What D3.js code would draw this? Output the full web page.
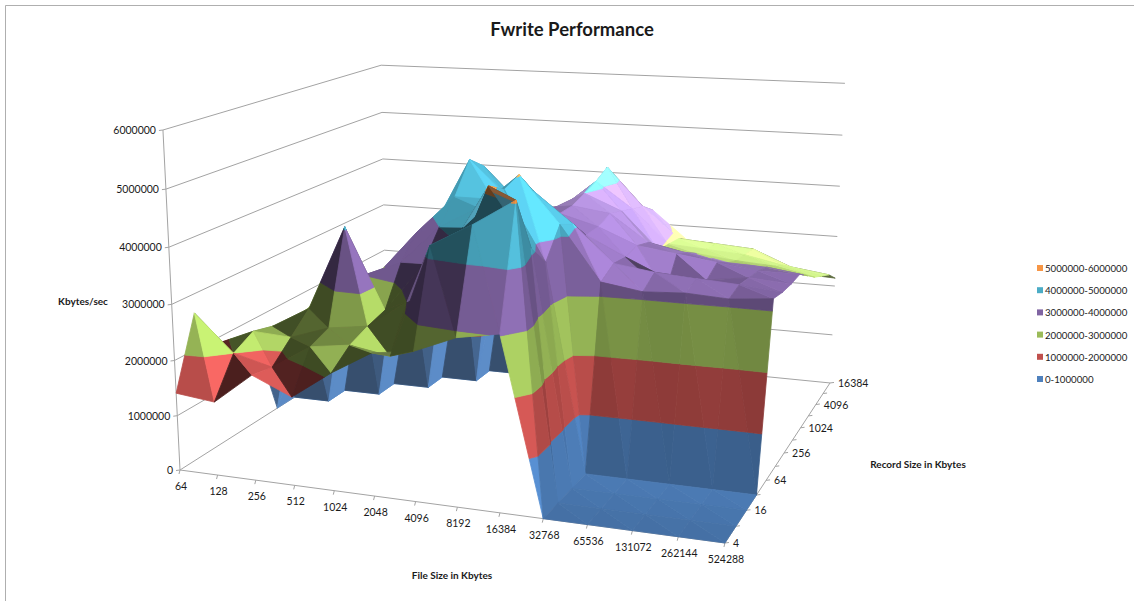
<!DOCTYPE html>
<html>
<head>
<meta charset="utf-8">
<script src="https://cdn.jsdelivr.net/npm/d3@7/dist/d3.min.js"></script>
<style>
html,body{margin:0;padding:0;background:#fff;}
svg{display:block;}
text{font-family:Lato,"Open Sans",sans-serif;fill:#1a1a1a;}
</style>
</head>
<body>
<svg id="chart" width="1134" height="601"></svg>
<script>
const fileSizes = [64,128,256,512,1024,2048,4096,8192,16384,32768,65536,131072,262144,524288];
const recordSizes = [4,8,16,32,64,128,256,512,1024,2048,4096,8192,16384];
const recordLabels = [4,16,64,256,1024,4096,16384];
const valueTicks = [0,1000000,2000000,3000000,4000000,5000000,6000000];
const bandLabels = ["0-1000000","1000000-2000000","2000000-3000000","3000000-4000000","4000000-5000000","5000000-6000000"];
const bandColors = ["#4f81bd","#c0504d","#9bbb59","#8064a2","#4bacc6","#f79646"];

// Throughput in millions of Kbytes/sec, one row per record size, one column per file size.
const rec4     = [1.41,1.33,1.89,1.58,2.08,2.50,2.60,2.90,3.03,0,0,0,0,0];
const rec8     = [2.66,2.00,1.82,2.26,2.36,2.24,4.20,4.60,5.05,0,0,0,0,0];
const rec16    = [1.90,2.20,2.16,2.40,2.50,3.00,3.40,5.10,4.10,0,0,0,0,0];
const rec32    = [1.70,2.10,2.50,4.05,2.60,3.50,4.20,4.90,3.70,0,0,0,0,0];
const rec64    = [1.50,2.00,2.60,3.00,3.30,4.00,4.40,5.02,4.20,3.24,3.13,3.17,3.13,3.20];
const rec128   = [0,1.80,2.50,2.90,3.70,4.40,4.40,4.60,4.05,3.40,3.30,3.25,3.20,3.13];
const rec256   = [0,0,2.40,2.80,3.60,4.95,4.30,4.20,3.70,3.35,2.75,3.05,3.15,3.10];
const rec512   = [0,0,0,2.50,3.20,4.70,4.00,3.90,3.70,3.40,3.30,3.20,3.10,3.10];
const rec1024  = [0,0,0,0,2.90,4.00,3.80,3.90,3.80,3.30,3.15,3.02,3.00,2.90];
const rec2048  = [0,0,0,0,0,3.50,3.60,4.00,3.70,3.00,2.98,2.90,2.85,2.70];
const rec4096  = [0,0,0,0,0,0,3.50,4.10,3.60,2.95,2.90,2.85,2.70,2.55];
const rec8192  = [0,0,0,0,0,0,0,4.25,3.50,2.90,2.85,2.80,2.50,2.40];
const rec16384 = [0,0,0,0,0,0,0,0,3.28,2.70,2.60,2.35,2.20,2.16];
const throughput = [rec4,rec8,rec16,rec32,rec64,rec128,rec256,rec512,rec1024,rec2048,rec4096,rec8192,rec16384];

const svg = d3.select("#chart");
const GRID = "#a3a3a3";

const fileScale = d3.scalePoint().domain(fileSizes).range([0,1]);
const recordScale = d3.scalePoint().domain(recordSizes).range([0,1]);
const valueScale = d3.scaleLinear().domain([0,6000000]).range([0,1]);

// Perspective camera: homogeneous coordinates of the unit plot box on the page.
function project(u,v,t){
  const w = 1 - 0.1114*u + 0.2538*v - 0.05*t;
  return [(180 + 464.2*u + 304*v - 25.2*t)/w, (470 + 12.5*u - 45*v - 346.5*t)/w];
}

// Chart frame
svg.append("path").attr("d","M5.5,601V5.5H1134").attr("fill","none").attr("stroke","#9a9a9a").attr("stroke-width",0.8);

const line = d3.line();
function seg(a,b,w){
  svg.append("path").attr("d",line([a,b])).attr("fill","none").attr("stroke",GRID).attr("stroke-width",w||1);
}

// Walls: one line per value tick on the side wall and the rear wall
valueTicks.forEach(val=>{
  const t = valueScale(val);
  const front = project(0,0,t), corner = project(0,1,t), far = project(1,1,t);
  svg.append("path").attr("d",line([front,corner,far])).attr("fill","none").attr("stroke",GRID).attr("stroke-width",1);
  seg([front[0]-4,front[1]+0.5],front);
  svg.append("text").attr("x",front[0]-7).attr("y",front[1]+4).attr("text-anchor","end").attr("font-size",10.5).text(val);
});
seg(project(0,0,0),project(0,0,1));

// Floor edges with their ticks and labels
seg(project(0,0,0),project(1,0,0));
seg(project(1,0,0),project(1,1,0));
fileSizes.forEach(f=>{
  const u = fileScale(f), p = project(u,0,0);
  seg(p,[p[0]-1,p[1]+4]);
  svg.append("text").attr("x",p[0]+1).attr("y",p[1]+20).attr("text-anchor","middle").attr("font-size",10.5).text(f);
});
recordSizes.forEach(r=>{
  const v = recordScale(r), p = project(1,v,0);
  seg(p,[p[0]+4,p[1]-0.5]);
  if(recordLabels.includes(r)){
    svg.append("text").attr("x",p[0]+8).attr("y",p[1]+4).attr("text-anchor","start").attr("font-size",10.5).text(r);
  }
});

// Shading of a facet from its unit normal; factor applied to the band colour
const shade = d3.scaleLinear().domain([-1,-0.2,0.2,0.5,0.7,0.92,1]).range([0.3,0.4,0.45,0.72,1,1.33,1.4]).clamp(true);
const light = [0.6,-0.4,0.7];

function facetTone(a,b,c,band){
  const zs = 0.75;
  const ax=[(b.u-a.u),(b.v-a.v),(b.t-a.t)*zs], bx=[(c.u-a.u),(c.v-a.v),(c.t-a.t)*zs];
  let n=[ax[1]*bx[2]-ax[2]*bx[1], ax[2]*bx[0]-ax[0]*bx[2], ax[0]*bx[1]-ax[1]*bx[0]];
  const len=Math.hypot(...n)||1; n=n.map(d=>d/len);
  const cu=(a.u+b.u+c.u)/3, cy=(a.v+b.v+c.v)/3;
  // Facets turned away from the camera show their underside
  const pa=project(a.u,a.v,a.t),pb=project(b.u,b.v,b.t),pc=project(c.u,c.v,c.t);
  const front=(pb[0]-pa[0])*(pc[1]-pa[1])-(pb[1]-pa[1])*(pc[0]-pa[0])<0;
  const base=d3.rgb(bandColors[band]);
  if(!front){
    const g=0.55+0.55*Math.max(0,-n[0]);
    const c2=d3.rgb(base.r*g,base.g*g,base.b*g);
    return d3.rgb(d3.interpolateRgb(c2,"#8c8c9c")(0.12)).formatHex();
  }
  let f=shade(n[0]*light[0]+n[1]*light[1]+n[2]*light[2]);
  // Near the front, faces leaning left fall into shadow; further back they catch the fill light
  if(n[0]<-0.15) f = cy<0.3 ? Math.max(0.42,f*Math.max(0.7,1+1.2*n[0])) : Math.max(f,0.9);
  // Shoulder of the tallest ridge above the cliff
  if(cu>0.55&&cy<0.1) f=Math.max(f,0.98);
  const flat=Math.abs(n[2])>0.995;
  f*=flat ? 0.86+0.38*cy : 0.93+0.14*cy+Math.max(0,cy-0.55)*0.9;
  let col=d3.rgb(base.r*f,base.g*f,base.b*f);
  if(cy>0.55) col=d3.interpolateRgb(col,"#fff")((cy-0.55)*0.7);
  return d3.rgb(col).formatHex();
}

// Clip a triangle to the band lo..hi of its t coordinate
function clipBand(poly,lo,hi){
  const cut=(pts,keep,lim)=>{
    const out=[];
    pts.forEach((p,k)=>{
      const q=pts[(k+1)%pts.length];
      const pin=keep(p.t), qin=keep(q.t);
      if(pin) out.push(p);
      if(pin!==qin){
        const s=(lim-p.t)/(q.t-p.t);
        out.push({u:p.u+s*(q.u-p.u),v:p.v+s*(q.v-p.v),t:lim});
      }
    });
    return out;
  };
  return cut(cut(poly,t=>t>=lo,lo),t=>t<=hi,hi);
}

// Build the surface from the far row to the near row so nearer facets overdraw
const facets=[];
const node=(i,j)=>({u:fileScale(fileSizes[i]),v:recordScale(recordSizes[j]),t:valueScale(throughput[j][i]*1e6)});
for(let j=recordSizes.length-2;j>=0;j--){
  for(let i=0;i<fileSizes.length-1;i++){
    const a=node(i,j),b=node(i+1,j),c=node(i,j+1),d=node(i+1,j+1);
    [[a,b,c],[b,d,c]].forEach(tri=>{
      bandColors.forEach((col,k)=>{
        const poly=clipBand(tri,valueScale(k*1e6),valueScale((k+1)*1e6));
        if(poly.length>=3){
          const tone=facetTone(tri[0],tri[1],tri[2],k);
          facets.push({path:poly.map(p=>project(p.u,p.v,p.t)),tone});
        }
      });
    });
  }
}
svg.append("g").selectAll("path").data(facets).join("path")
  .attr("d",d=>line(d.path)+"Z")
  .attr("fill",d=>d.tone).attr("stroke",d=>d.tone).attr("stroke-width",0.8).attr("stroke-linejoin","round");

// Titles
svg.append("text").attr("x",572).attr("y",36).attr("text-anchor","middle").attr("font-size",18.5).attr("font-weight",700).text("Fwrite Performance");
svg.append("text").attr("x",83).attr("y",305).attr("text-anchor","middle").attr("font-size",10).attr("font-weight",700).text("Kbytes/sec");
svg.append("text").attr("x",452).attr("y",579).attr("text-anchor","middle").attr("font-size",10).attr("font-weight",700).text("File Size in Kbytes");
svg.append("text").attr("x",918).attr("y",468).attr("text-anchor","middle").attr("font-size",10).attr("font-weight",700).text("Record Size in Kbytes");

// Legend, highest band first
const legendY = d3.scalePoint().domain(d3.range(6)).range([268,379]);
const legend = svg.append("g").selectAll("g").data(d3.range(5,-1,-1)).join("g")
  .attr("transform",(d,k)=>`translate(1037,${legendY(k)})`);
legend.append("rect").attr("x",0).attr("y",-3).attr("width",6).attr("height",6).attr("fill",d=>bandColors[d]);
legend.append("text").attr("x",8).attr("y",4).attr("font-size",9.7).text(d=>bandLabels[d]);
</script>
</body>
</html>
